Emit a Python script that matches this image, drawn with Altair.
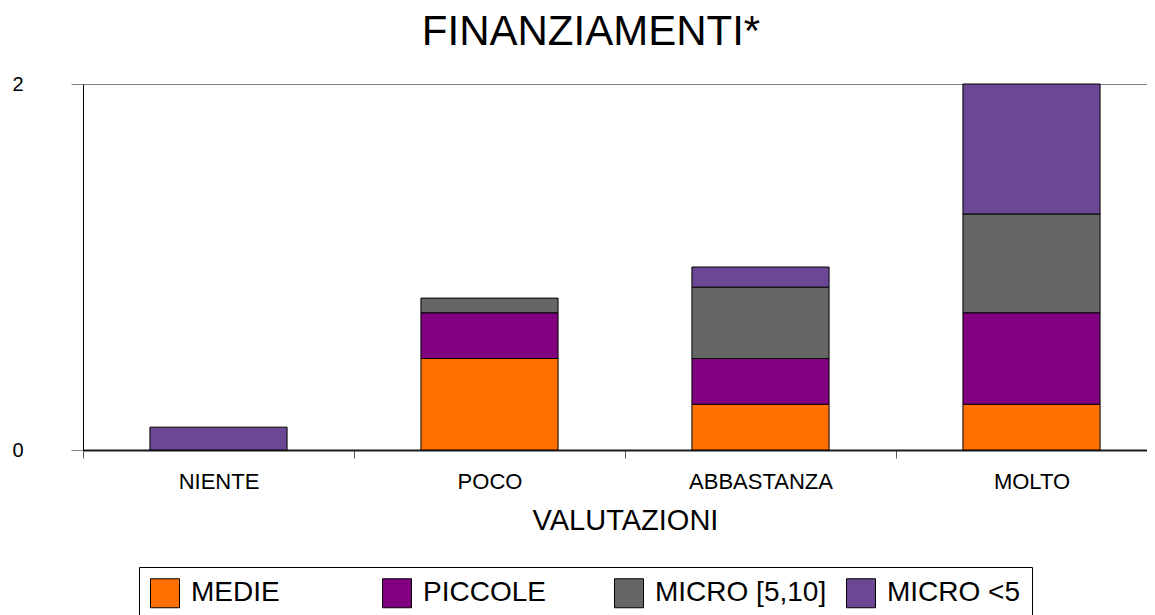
import altair as alt
import pandas as pd

categories = ["NIENTE", "POCO", "ABBASTANZA", "MOLTO"]
series = ["MEDIE", "PICCOLE", "MICRO [5,10]", "MICRO <5"]
medie = [0, 0.5, 0.25, 0.25]
piccole = [0, 0.25, 0.25, 0.5]
micro_5_10 = [0, 0.08, 0.39, 0.54]
micro_lt5 = [0.125, 0, 0.11, 0.71]
colors = ["#FF7000", "#800080", "#666666", "#6C4894"]
y_ticks = [0, 2]

rows = []
for s_i, (name, vals) in enumerate(zip(series, [medie, piccole, micro_5_10, micro_lt5])):
    for c, v in zip(categories, vals):
        rows.append({"cat": c, "serie": name, "valore": v, "ordine": s_i})
df = pd.DataFrame(rows)

FONT = "Liberation Sans"

chart = (
    alt.Chart(df)
    .transform_filter("datum.valore > 0")
    .mark_bar(stroke="black", strokeWidth=1, opacity=1)
    .encode(
        x=alt.X(
            "cat:N",
            sort=categories,
            scale=alt.Scale(range=[0, 1084], paddingInner=0.494, paddingOuter=0.247),
            axis=alt.Axis(
                title="VALUTAZIONI",
                labelAngle=0,
                tickOffset=-135.5,
                labelOffset=135.5,
                tickSize=8,
                tickColor="#555555",
                domainColor="#1a1a1a",
                domainWidth=2,
                labelFontSize=22,
                labelFont=FONT,
                labelColor="black",
                labelPadding=13,
                titleFontSize=29,
                titleFont=FONT,
                titleFontWeight="normal",
                titleColor="black",
                titlePadding=14,
                grid=False,
            ),
        ),
        y=alt.Y(
            "valore:Q",
            stack="zero",
            scale=alt.Scale(domain=[0, 2], nice=False),
            axis=alt.Axis(
                values=y_ticks,
                title=None,
                grid=True,
                gridColor="#808080",
                tickSize=12,
                tickColor="#808080",
                domainColor="black",
                labelFontSize=20,
                labelFont=FONT,
                labelColor="black",
                labelPadding=48,
            ),
        ),
        color=alt.Color(
            "serie:N",
            sort=series,
            scale=alt.Scale(domain=series, range=colors),
            legend=alt.Legend(
                title=None,
                orient="none",
                legendX=56,
                legendY=483,
                direction="horizontal",
                columns=4,
                gridAlign="all",
                columnPadding=17,
                symbolType="square",
                symbolSize=841,
                symbolStrokeColor="black",
                symbolStrokeWidth=1,
                symbolOpacity=1,
                labelFontSize=28,
                labelFont=FONT,
                labelColor="black",
                labelOffset=11,
                labelLimit=400,
                padding=11,
                strokeColor="black",
            ),
        ),
        order=alt.Order("ordine:Q", sort="ascending"),
    )
    .properties(
        width=1064,
        height=366,
        title=alt.Title(
            "FINANZIAMENTI*",
            fontSize=42,
            font=FONT,
            fontWeight="normal",
            color="black",
            anchor="middle",
            frame="group",
            dx=-24,
            offset=20,
        ),
        autosize=alt.AutoSizeParams(type="none"),
        padding={"left": 75, "top": 76, "right": 0, "bottom": 172},
    )
    .configure_view(stroke=None)
)

chart.save("out.html", embed_options={"renderer": "svg", "actions": False})
